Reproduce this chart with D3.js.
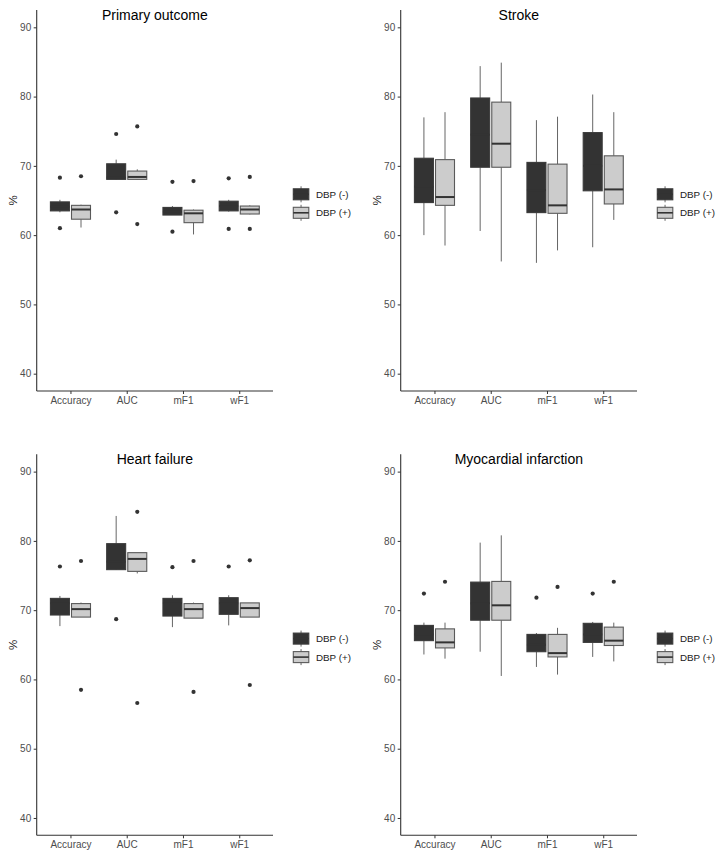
<!DOCTYPE html>
<html>
<head>
<meta charset="utf-8">
<script src="https://cdn.jsdelivr.net/npm/d3@7"></script>
<style>
  body { margin: 0; background: #fff; }
  svg { display: block; font-family: "Liberation Sans", Arial, sans-serif; }
</style>
</head>
<body>
<svg id="chart" width="720" height="856"></svg>
<script>
const metrics = ["Accuracy", "AUC", "mF1", "wF1"];
const groups = ["DBP (-)", "DBP (+)"];
const yTicks = [40, 50, 60, 70, 80, 90];

// box stats per metric: [lower whisker, q1, median, q3, upper whisker]
const primaryNeg = [[63.3, 63.5, 64.1, 64.8, 65.1], [68.0, 68.05, 68.3, 70.3, 70.9], [62.9, 62.9, 63.4, 64.0, 64.2], [63.4, 63.5, 64.2, 64.9, 65.1]];
const primaryPos = [[61.1, 62.3, 63.7, 64.3, 64.4], [68.0, 68.05, 68.4, 69.25, 69.5], [60.1, 61.8, 63.15, 63.6, 63.7], [63.0, 63.05, 63.7, 64.2, 64.3]];
const primaryOutNeg = [[68.3, 61.0], [74.6, 63.3], [67.7, 60.5], [68.2, 60.9]];
const primaryOutPos = [[68.5], [75.7, 61.6], [67.8], [68.4, 60.9]];

const strokeNeg = [[60.0, 64.7, 67.0, 71.1, 77.0], [60.6, 69.8, 74.5, 79.8, 84.4], [56.0, 63.25, 66.5, 70.5, 76.6], [58.25, 66.4, 70.0, 74.8, 80.3]];
const strokePos = [[58.5, 64.3, 65.5, 70.9, 77.75], [56.2, 69.8, 73.2, 79.2, 84.9], [57.8, 63.15, 64.3, 70.25, 77.1], [62.2, 64.5, 66.6, 71.45, 77.75]];
const strokeOutNeg = [[], [], [], []];
const strokeOutPos = [[], [], [], []];

const heartNeg = [[67.7, 69.3, 71.0, 71.7, 72.05], [75.8, 75.85, 77.0, 79.6, 83.6], [67.55, 69.15, 71.0, 71.7, 72.15], [67.8, 69.4, 71.0, 71.8, 72.15]];
const heartPos = [[69.0, 69.0, 70.15, 70.95, 71.1], [75.3, 75.6, 77.4, 78.3, 78.3], [68.85, 68.85, 70.15, 70.95, 71.1], [69.0, 69.0, 70.3, 71.05, 71.05]];
const heartOutNeg = [[76.3], [68.7], [76.2], [76.3]];
const heartOutPos = [[77.1, 58.5], [84.2, 56.6], [77.1, 58.2], [77.2, 59.2]];

const miNeg = [[63.6, 65.6, 66.5, 67.8, 68.2], [64.0, 68.55, 71.0, 74.05, 79.75], [61.8, 64.0, 65.0, 66.5, 66.7], [63.25, 65.35, 66.5, 68.1, 68.3]];
const miPos = [[63.0, 64.55, 65.35, 67.3, 68.2], [60.5, 68.55, 70.7, 74.15, 80.8], [60.7, 63.25, 63.8, 66.5, 67.45], [62.6, 64.9, 65.6, 67.55, 68.2]];
const miOutNeg = [[72.4], [], [71.8], [72.4]];
const miOutPos = [[74.1], [], [73.35], [74.1]];

const fills = ["#333333", "#cccccc"];

const svg = d3.select("#chart");
const plotW = 236.3, plotH = 381;

function drawPanel(left, top, title, neg, pos, outNeg, outPos) {
  const g = svg.append("g").attr("transform", `translate(${left},${top})`);

  const x = d3.scalePoint().domain(metrics).range([0, plotW]).padding(0.6);
  const y = d3.scaleLinear().domain([37.5, 92.5]).range([plotH, 0]);
  const dodge = d3.scaleBand().domain(groups).range([-0.375 * x.step(), 0.375 * x.step()]);
  const boxW = dodge.bandwidth() * 0.9;

  const rows = [];
  metrics.forEach((m, i) => {
    [neg, pos].forEach((src, k) => {
      const s = src[i];
      rows.push({
        metric: m, group: groups[k], k: k,
        lo: s[0], q1: s[1], med: s[2], q3: s[3], hi: s[4],
        out: (k === 0 ? outNeg : outPos)[i]
      });
    });
  });

  const cx = (d) => x(d.metric) + dodge(d.group) + dodge.bandwidth() / 2;

  const box = g.selectAll("g.box").data(rows).join("g").attr("class", "box");

  // whiskers
  box.append("line")
    .attr("x1", cx).attr("x2", cx)
    .attr("y1", (d) => y(d.hi)).attr("y2", (d) => y(d.q3))
    .attr("stroke", "#666").attr("stroke-width", 1);
  box.append("line")
    .attr("x1", cx).attr("x2", cx)
    .attr("y1", (d) => y(d.q1)).attr("y2", (d) => y(d.lo))
    .attr("stroke", "#666").attr("stroke-width", 1);

  box.append("rect")
    .attr("x", (d) => cx(d) - boxW / 2)
    .attr("width", boxW)
    .attr("y", (d) => y(d.q3))
    .attr("height", (d) => y(d.q1) - y(d.q3))
    .attr("fill", (d) => fills[d.k])
    .attr("stroke", (d) => (d.k === 0 ? "#3a3a3a" : "#5a5a5a"))
    .attr("stroke-width", 1.1);

  box.append("line")
    .attr("x1", (d) => cx(d) - boxW / 2).attr("x2", (d) => cx(d) + boxW / 2)
    .attr("y1", (d) => y(d.med)).attr("y2", (d) => y(d.med))
    .attr("stroke", "#333").attr("stroke-width", 2);

  box.selectAll("circle")
    .data((d) => d.out.map((v) => ({ v: v, d: d })))
    .join("circle")
    .attr("cx", (o) => cx(o.d))
    .attr("cy", (o) => y(o.v))
    .attr("r", 2.1)
    .attr("fill", "#333");

  // axes
  const yAxis = g.append("g")
    .call(d3.axisLeft(y).tickValues(yTicks).tickSize(3).tickPadding(2.5));
  const xAxis = g.append("g")
    .attr("transform", `translate(0,${plotH})`)
    .call(d3.axisBottom(x).tickSize(3).tickPadding(3));

  [yAxis, xAxis].forEach((a) => {
    a.select(".domain").attr("stroke", "#333").attr("stroke-width", 1.1);
    a.selectAll(".tick line").attr("stroke", "#333").attr("stroke-width", 1);
    a.selectAll(".tick text")
      .attr("fill", "#4d4d4d")
      .style("font-size", "10px")
      .style("font-family", '"Liberation Sans", Arial, sans-serif');
  });
  // axis lines span the full panel like ggplot
  yAxis.select(".domain").attr("d", `M0,${plotH}V0`);
  xAxis.select(".domain").attr("d", `M0,0H${plotW}`);

  g.append("text")
    .attr("transform", `translate(-24,${plotH / 2}) rotate(-90)`)
    .attr("text-anchor", "middle")
    .attr("dy", "0.35em")
    .style("font-size", "11.5px")
    .attr("fill", "#1a1a1a")
    .text("%");

  g.append("text")
    .attr("x", plotW / 2)
    .attr("y", 10)
    .attr("text-anchor", "middle")
    .style("font-size", "14px")
    .attr("fill", "#000")
    .text(title);

  // legend
  const leg = g.append("g").attr("transform", `translate(${plotW + 20.3},${plotH / 2})`);
  groups.forEach((name, k) => {
    const ky = -6.2 + k * 18.5;
    const kg = leg.append("g").attr("transform", `translate(0,${ky})`);
    kg.append("line")
      .attr("x1", 7.75).attr("x2", 7.75).attr("y1", -8).attr("y2", 8)
      .attr("stroke", "#666").attr("stroke-width", 1);
    kg.append("rect")
      .attr("x", 0).attr("y", -5.5).attr("width", 15.5).attr("height", 11)
      .attr("fill", fills[k])
      .attr("stroke", k === 0 ? "#3a3a3a" : "#5a5a5a")
      .attr("stroke-width", 1.1);
    kg.append("line")
      .attr("x1", 0).attr("x2", 15.5).attr("y1", 0).attr("y2", 0)
      .attr("stroke", "#333").attr("stroke-width", 1.6);
    kg.append("text")
      .attr("x", 22.7).attr("y", 0).attr("dy", "0.35em")
      .style("font-size", "9.8px")
      .attr("fill", "#1a1a1a")
      .text(name);
  });
}

drawPanel(36.7, 10, "Primary outcome", primaryNeg, primaryPos, primaryOutNeg, primaryOutPos);
drawPanel(400.7, 10, "Stroke", strokeNeg, strokePos, strokeOutNeg, strokeOutPos);
drawPanel(36.7, 454.3, "Heart failure", heartNeg, heartPos, heartOutNeg, heartOutPos);
drawPanel(400.7, 454.3, "Myocardial infarction", miNeg, miPos, miOutNeg, miOutPos);
</script>
</body>
</html>
